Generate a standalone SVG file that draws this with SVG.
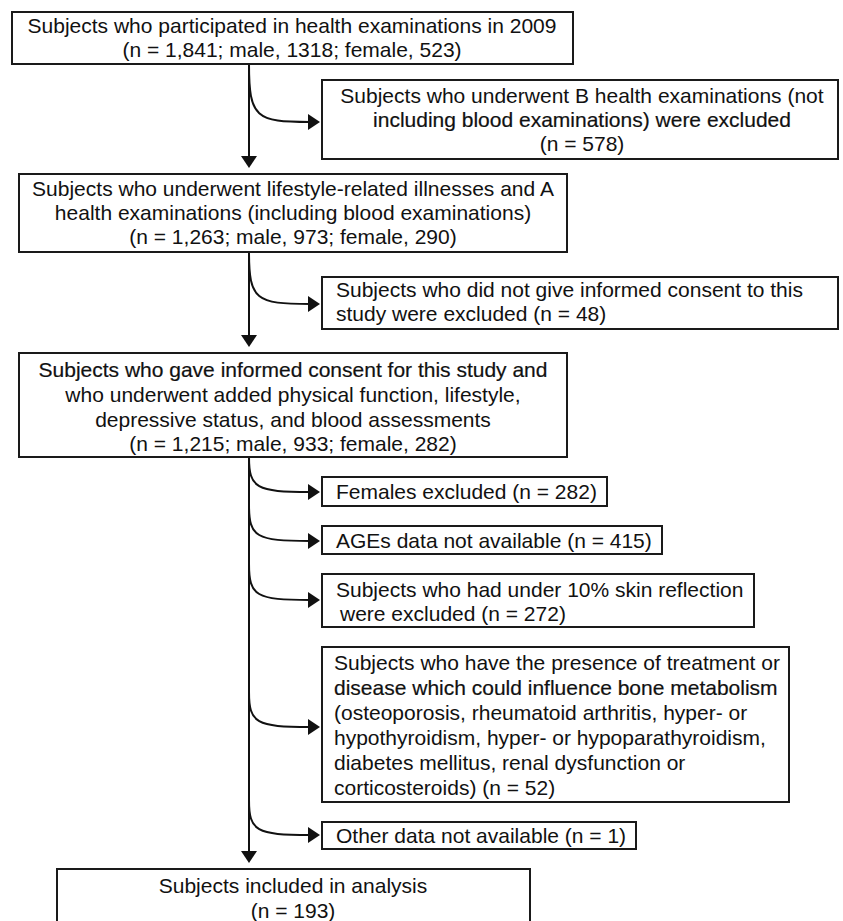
<svg xmlns="http://www.w3.org/2000/svg" width="843" height="921" viewBox="0 0 843 921">
<style>
.box{fill:#fff;stroke:#1a1a1a;stroke-width:2}
.t{font-family:"Liberation Sans",Arial,sans-serif;font-size:21px;fill:#111}
.c{text-anchor:middle}
.dk{stroke:#111;stroke-width:0.2}
.ln{fill:none;stroke:#111;stroke-width:2}
</style>
<defs>
<marker id="ah" markerUnits="userSpaceOnUse" markerWidth="12" markerHeight="16" refX="2" refY="8" orient="auto" overflow="visible">
<path d="M0,0 L12,8 L0,16 z" fill="#111"/>
</marker>
</defs>
<rect width="843" height="921" fill="#fff"/>
<g id="connectors">
<path class="ln" d="M249,64 V158" marker-end="url(#ah)"/>
<path class="ln" d="M249,64 C249,118 256,122 310,122" marker-end="url(#ah)"/>
<path class="ln" d="M249,252 V337" marker-end="url(#ah)"/>
<path class="ln" d="M249,252 C249,300 256,304 310,304" marker-end="url(#ah)"/>
<path class="ln" d="M249,457 V853" marker-end="url(#ah)"/>
<path class="ln" d="M249,457 C249,488 256,492 310,492" marker-end="url(#ah)"/>
<path class="ln" d="M249,505 C249,537 256,541 310,541" marker-end="url(#ah)"/>
<path class="ln" d="M249,564 C249,596 256,600 310,600" marker-end="url(#ah)"/>
<path class="ln" d="M249,692 C249,723 256,727 310,727" marker-end="url(#ah)"/>
<path class="ln" d="M249,800 C249,831 256,835 310,835" marker-end="url(#ah)"/>
</g>
<g id="n1">
<rect class="box" x="12" y="12" width="561" height="52"/>
<text class="t c" x="292" y="33">Subjects who participated in health examinations in 2009</text>
<text class="t c" x="292" y="57">(n = 1,841; male, 1318; female, 523)</text>
</g>
<g id="x1">
<rect class="box" x="322" y="80" width="516" height="79"/>
<text class="t c" x="582" y="103">Subjects who underwent B health examinations (not</text>
<text class="t c dk" x="582" y="127">including blood examinations) were excluded</text>
<text class="t c" x="582" y="151">(n = 578)</text>
</g>
<g id="n2">
<rect class="box" x="19" y="174" width="548" height="78"/>
<text class="t c" x="293" y="196">Subjects who underwent lifestyle-related illnesses  and A</text>
<text class="t c" x="293" y="220">health examinations (including blood examinations)</text>
<text class="t c" x="293" y="244">(n = 1,263; male, 973; female, 290)</text>
</g>
<g id="x2">
<rect class="box" x="322" y="277" width="516" height="52"/>
<text class="t" x="336" y="297">Subjects who did not give informed consent to this</text>
<text class="t" x="336" y="321">study were excluded (n = 48)</text>
</g>
<g id="n3">
<rect class="box" x="19" y="353" width="548" height="104"/>
<text class="t c dk" x="293" y="377">Subjects who gave informed consent for this study and</text>
<text class="t c" x="293" y="402">who underwent added physical function, lifestyle,</text>
<text class="t c" x="293" y="427">depressive status, and blood assessments</text>
<text class="t c" x="293" y="451">(n = 1,215; male, 933; female, 282)</text>
</g>
<g id="x3">
<rect class="box" x="322" y="477" width="285" height="29"/>
<text class="t" x="336" y="499">Females excluded (n = 282)</text>
</g>
<g id="x4">
<rect class="box" x="322" y="526" width="340" height="28"/>
<text class="t" x="336" y="548">AGEs data not available (n = 415)</text>
</g>
<g id="x5">
<rect class="box" x="322" y="574" width="432" height="53"/>
<text class="t" x="336" y="597">Subjects who had under 10% skin reflection</text>
<text class="t" x="340" y="621">were excluded (n = 272)</text>
</g>
<g id="x6">
<rect class="box" x="322" y="647" width="467" height="155"/>
<text class="t" x="334" y="670">Subjects who have the presence of treatment or</text>
<text class="t dk" x="334" y="695">disease which could influence bone metabolism</text>
<text class="t" x="334" y="720">(osteoporosis, rheumatoid arthritis, hyper- or</text>
<text class="t" x="334" y="745">hypothyroidism, hyper- or hypoparathyroidism,</text>
<text class="t" x="334" y="770">diabetes mellitus, renal dysfunction or</text>
<text class="t" x="334" y="795">corticosteroids) (n = 52)</text>
</g>
<g id="x7">
<rect class="box" x="322" y="822" width="314" height="27"/>
<text class="t" x="336" y="843">Other data not available (n = 1)</text>
</g>
<g id="n4">
<rect class="box" x="57" y="869" width="473" height="70"/>
<text class="t c" x="293" y="893">Subjects included in analysis</text>
<text class="t c" x="293" y="918">(n = 193)</text>
</g>
</svg>
